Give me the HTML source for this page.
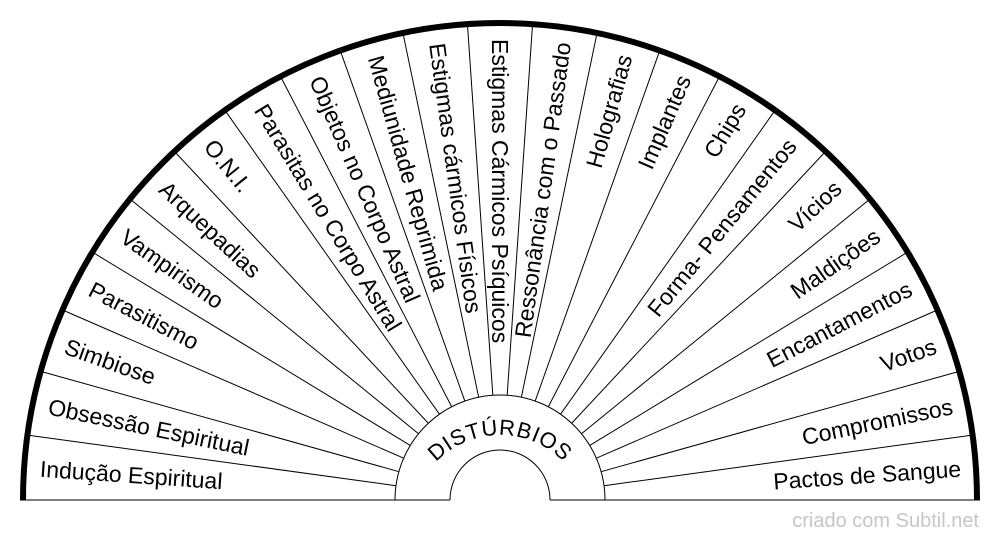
<!DOCTYPE html>
<html>
<head>
<meta charset="utf-8">
<style>
  html, body { margin: 0; padding: 0; background: #ffffff; }
  body { width: 1000px; height: 540px; overflow: hidden; }
  svg { display: block; }
  .lbl { font-family: "Liberation Sans", Arial, sans-serif; font-size: 23px; fill: #000; }
</style>
</head>
<body>
<svg width="1000" height="540" viewBox="0 0 1000 540" xmlns="http://www.w3.org/2000/svg">
  <rect x="0" y="0" width="1000" height="540" fill="#ffffff"/>

  <!-- baseline (gray) with gap inside small inner circle -->
  <line x1="20" y1="500" x2="450" y2="500" stroke="#808080" stroke-width="2"/>
  <line x1="550" y1="500" x2="980" y2="500" stroke="#808080" stroke-width="2"/>

  <!-- dividers -->
  <g stroke="#000" stroke-width="1">
    <line x1="605" y1="500" x2="975" y2="500" transform="rotate(-7.826 500 500)"/>
    <line x1="605" y1="500" x2="975" y2="500" transform="rotate(-15.652 500 500)"/>
    <line x1="605" y1="500" x2="975" y2="500" transform="rotate(-23.478 500 500)"/>
    <line x1="605" y1="500" x2="975" y2="500" transform="rotate(-31.304 500 500)"/>
    <line x1="605" y1="500" x2="975" y2="500" transform="rotate(-39.130 500 500)"/>
    <line x1="605" y1="500" x2="975" y2="500" transform="rotate(-46.957 500 500)"/>
    <line x1="605" y1="500" x2="975" y2="500" transform="rotate(-54.783 500 500)"/>
    <line x1="605" y1="500" x2="975" y2="500" transform="rotate(-62.609 500 500)"/>
    <line x1="605" y1="500" x2="975" y2="500" transform="rotate(-70.435 500 500)"/>
    <line x1="605" y1="500" x2="975" y2="500" transform="rotate(-78.261 500 500)"/>
    <line x1="605" y1="500" x2="975" y2="500" transform="rotate(-86.087 500 500)"/>
    <line x1="605" y1="500" x2="975" y2="500" transform="rotate(-93.913 500 500)"/>
    <line x1="605" y1="500" x2="975" y2="500" transform="rotate(-101.739 500 500)"/>
    <line x1="605" y1="500" x2="975" y2="500" transform="rotate(-109.565 500 500)"/>
    <line x1="605" y1="500" x2="975" y2="500" transform="rotate(-117.391 500 500)"/>
    <line x1="605" y1="500" x2="975" y2="500" transform="rotate(-125.217 500 500)"/>
    <line x1="605" y1="500" x2="975" y2="500" transform="rotate(-133.043 500 500)"/>
    <line x1="605" y1="500" x2="975" y2="500" transform="rotate(-140.870 500 500)"/>
    <line x1="605" y1="500" x2="975" y2="500" transform="rotate(-148.696 500 500)"/>
    <line x1="605" y1="500" x2="975" y2="500" transform="rotate(-156.522 500 500)"/>
    <line x1="605" y1="500" x2="975" y2="500" transform="rotate(-164.348 500 500)"/>
    <line x1="605" y1="500" x2="975" y2="500" transform="rotate(-172.174 500 500)"/>
  </g>

  <!-- inner circles -->
  <path d="M395 500 A105 105 0 0 1 605 500" fill="none" stroke="#000" stroke-width="1"/>
  <path d="M450 500 A50 50 0 0 1 550 500" fill="none" stroke="#000" stroke-width="1"/>

  <!-- outer thick arc -->
  <path d="M23 500 A477 477 0 0 1 977 500" fill="none" stroke="#000" stroke-width="6"/>

  <!-- left labels (read inward) -->
  <g class="lbl">
    <text x="39" y="500" dy="8.2" transform="rotate(3.913 500 500)">Indução Espiritual</text>
    <text x="39" y="500" dy="8.2" transform="rotate(11.739 500 500)">Obsessão Espiritual</text>
    <text x="39" y="500" dy="8.2" transform="rotate(19.565 500 500)">Simbiose</text>
    <text x="39" y="500" dy="8.2" transform="rotate(27.391 500 500)">Parasitismo</text>
    <text x="39" y="500" dy="8.2" transform="rotate(35.217 500 500)">Vampirismo</text>
    <text x="39" y="500" dy="8.2" transform="rotate(43.043 500 500)">Arquepadias</text>
    <text x="39" y="500" dy="8.2" transform="rotate(50.870 500 500)">O.N.I.</text>
    <text x="39" y="500" dy="8.2" transform="rotate(58.696 500 500)">Parasitas no Corpo Astral</text>
    <text x="39" y="500" dy="8.2" transform="rotate(66.522 500 500)">Objetos no Corpo Astral</text>
    <text x="39" y="500" dy="8.2" transform="rotate(74.348 500 500)">Mediunidade Reprimida</text>
    <text x="39" y="500" dy="8.2" transform="rotate(82.174 500 500)">Estigmas cármicos Físicos</text>
    <text x="39" y="500" dy="8.2" transform="rotate(90 500 500)">Estigmas Cármicos Psíquicos</text>
  </g>

  <!-- right labels (read outward) -->
  <g class="lbl" text-anchor="end">
    <text x="962" y="500" dy="8.2" transform="rotate(-82.174 500 500)">Ressonância com o Passado</text>
    <text x="962" y="500" dy="8.2" transform="rotate(-74.348 500 500)">Holografias</text>
    <text x="962" y="500" dy="8.2" transform="rotate(-66.522 500 500)">Implantes</text>
    <text x="962" y="500" dy="8.2" transform="rotate(-58.696 500 500)">Chips</text>
    <text x="962" y="500" dy="8.2" transform="rotate(-50.870 500 500)">Forma- Pensamentos</text>
    <text x="962" y="500" dy="8.2" transform="rotate(-43.043 500 500)">Vícios</text>
    <text x="962" y="500" dy="8.2" transform="rotate(-35.217 500 500)">Maldições</text>
    <text x="962" y="500" dy="8.2" transform="rotate(-27.391 500 500)">Encantamentos</text>
    <text x="962" y="500" dy="8.2" transform="rotate(-19.565 500 500)">Votos</text>
    <text x="962" y="500" dy="8.2" transform="rotate(-11.739 500 500)">Compromissos</text>
    <text x="962" y="500" dy="8.2" transform="rotate(-3.913 500 500)">Pactos de Sangue</text>
  </g>

  <!-- center arc title -->
  <defs>
    <path id="titleArc" d="M411 524 A89 89 0 0 1 589 524"/>
  </defs>
  <text font-family="Liberation Sans, Arial, sans-serif" font-size="22" letter-spacing="0.8" fill="#000">
    <textPath href="#titleArc" startOffset="50%" text-anchor="middle">DISTÚRBIOS</textPath>
  </text>

  <!-- watermark -->
  <text x="979" y="527" text-anchor="end" font-family="Liberation Sans, Arial, sans-serif" font-size="20" fill="#c6c6c6">criado com Subtil.net</text>
</svg>
</body>
</html>
